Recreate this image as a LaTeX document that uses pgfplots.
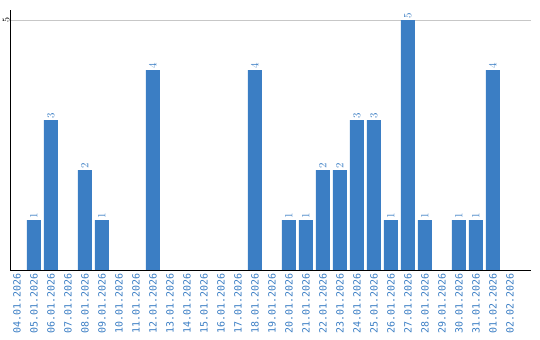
\documentclass[border=0pt]{standalone}
\usepackage{pgfplots}
\pgfplotsset{compat=1.18}
\usepackage{fontspec}
\setmainfont{DejaVu Sans Mono}
\definecolor{barblue}{RGB}{59,126,196}
\begin{document}
\begin{tikzpicture}
\useasboundingbox (0,0) rectangle (540bp,340bp);
\begin{axis}[
  at={(10bp,70bp)}, anchor=south west,
  scale only axis, width=521bp, height=260bp,
  xmin=-0.41, xmax=30.24, ymin=0, ymax=5.2,
  axis lines*=left,
  axis line style={black, line width=0.9pt},
  ybar, bar width=14bp,
  xtick={0,...,29},
  xticklabels={04.01.2026,05.01.2026,06.01.2026,07.01.2026,08.01.2026,09.01.2026,10.01.2026,11.01.2026,12.01.2026,13.01.2026,14.01.2026,15.01.2026,16.01.2026,17.01.2026,18.01.2026,19.01.2026,20.01.2026,21.01.2026,22.01.2026,23.01.2026,24.01.2026,25.01.2026,26.01.2026,27.01.2026,28.01.2026,29.01.2026,30.01.2026,31.01.2026,01.02.2026,02.02.2026},
  xticklabel style={rotate=90, anchor=east, font=\fontsize{10}{11}\selectfont, text=barblue, inner xsep=3pt, inner ysep=0pt},
  ytick={5},
  yticklabel style={rotate=90, anchor=south, font=\fontsize{10}{11}\selectfont, inner sep=0.5pt},
  ymajorgrids, grid style={color=black!22, line width=0.8pt},
  major tick length=0pt,
  nodes near coords,
  nodes near coords style={rotate=90, anchor=west, font=\fontsize{10.5}{11}\selectfont, text=barblue, inner xsep=1pt, inner ysep=0pt},
]
\addplot[fill=barblue, draw=none] coordinates {
(1,1)(2,3)(4,2)(5,1)(8,4)(14,4)(16,1)(17,1)(18,2)(19,2)(20,3)(21,3)(22,1)(23,5)(24,1)(26,1)(27,1)(28,4)
};
\end{axis}
\end{tikzpicture}
\end{document}
